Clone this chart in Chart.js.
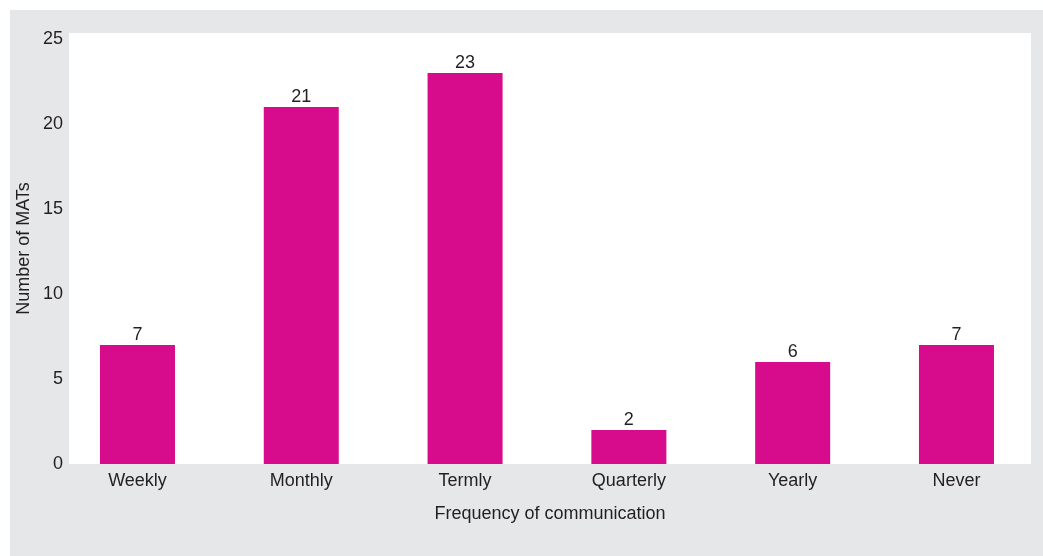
<!DOCTYPE html>
<html>
<head>
<meta charset="utf-8">
<script src="https://cdn.jsdelivr.net/npm/chart.js@4/dist/chart.umd.min.js"></script>
<style>
  html, body { margin: 0; padding: 0; background: #ffffff; }
  #panel {
    position: absolute; left: 10px; top: 10px;
    width: 1033px; height: 546px;
    background: #e6e7e8;
  }
  #chart { display: block; }
</style>
</head>
<body>
<div id="panel"><canvas id="chart" width="1033" height="546"></canvas></div>
<script>
// Survey results: how often MATs communicate
const categories = ['Weekly', 'Monthly', 'Termly', 'Quarterly', 'Yearly', 'Never'];
const matCounts = [7, 21, 23, 2, 6, 7];
const yTickValues = [0, 5, 10, 15, 20, 25];

const BAR_COLOR = '#d70c8c';
const TEXT_COLOR = '#231f20';
const FONT_FAMILY = '"Liberation Sans", Arial, Helvetica, sans-serif';

// White plotting panel behind the bars
const plotBackground = {
  id: 'plotBackground',
  beforeDraw(chart) {
    const { ctx, chartArea: a } = chart;
    ctx.save();
    ctx.fillStyle = '#ffffff';
    ctx.fillRect(a.left, a.top, a.right - a.left, a.bottom - a.top);
    ctx.restore();
  }
};

// Value labels above each bar
const valueLabels = {
  id: 'valueLabels',
  afterDatasetsDraw(chart) {
    const { ctx } = chart;
    const meta = chart.getDatasetMeta(0);
    ctx.save();
    ctx.fillStyle = TEXT_COLOR;
    ctx.font = '18px ' + FONT_FAMILY;
    ctx.textAlign = 'center';
    ctx.textBaseline = 'alphabetic';
    meta.data.forEach((bar, i) => {
      ctx.fillText(String(matCounts[i]), bar.x, bar.y - 5);
    });
    ctx.restore();
  }
};

new Chart(document.getElementById('chart'), {
  type: 'bar',
  data: {
    datasets: [{
      data: categories.map((c, i) => ({ x: i, y: matCounts[i] })),
      backgroundColor: BAR_COLOR,
      borderWidth: 0,
      categoryPercentage: 1,
      barPercentage: 0.458
    }]
  },
  options: {
    responsive: false,
    animation: false,
    events: [],
    layout: { padding: { top: 23, right: 12, left: 0, bottom: 0 } },
    plugins: {
      legend: { display: false },
      tooltip: { enabled: false }
    },
    scales: {
      x: {
        type: 'linear',
        offset: false,
        min: -0.418,
        max: 5.455,
        grid: { display: false, drawTicks: false, offset: false },
        border: { display: false },
        afterBuildTicks(scale) {
          scale.ticks = categories.map((c, i) => ({ value: i }));
        },
        afterFit(scale) { scale.height = 92; },
        ticks: {
          autoSkip: false,
          maxRotation: 0,
          padding: 6,
          color: TEXT_COLOR,
          font: { size: 18, family: FONT_FAMILY },
          callback: (v) => categories[v]
        },
        title: {
          display: true,
          text: 'Frequency of communication',
          color: TEXT_COLOR,
          font: { size: 18, family: FONT_FAMILY },
          padding: { top: 0, bottom: 31 }
        }
      },
      y: {
        min: 0,
        max: 25.353,
        grid: { display: false, drawTicks: false },
        border: { display: false },
        afterBuildTicks(scale) {
          scale.ticks = yTickValues.map(v => ({ value: v }));
        },
        afterFit(scale) { scale.width = 59; },
        ticks: {
          padding: 6,
          color: TEXT_COLOR,
          font: { size: 18, family: FONT_FAMILY }
        },
        title: {
          display: true,
          text: 'Number of MATs',
          color: TEXT_COLOR,
          font: { size: 18, family: FONT_FAMILY },
          padding: { top: 3, bottom: 0 }
        }
      }
    }
  },
  plugins: [plotBackground, valueLabels]
});
</script>
</body>
</html>
